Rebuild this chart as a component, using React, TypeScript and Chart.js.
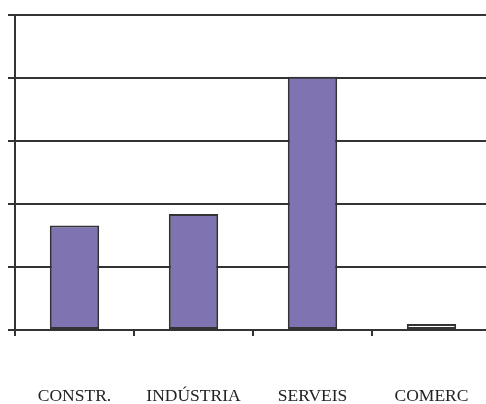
import React, { useEffect, useRef } from "react";
import { Chart, registerables } from "chart.js";

Chart.register(...registerables);

const categories = ["CONSTR.", "INDÚSTRIA", "SERVEIS", "COMERC"];
const values = [16.6, 18.4, 40.2, 0.95];
const fillColors = ["#7f73b1", "#7f73b1", "#7f73b1", "#ffffff"];
const yMin = 0;
const yMax = 50;
const yStep = 10;

export default function App() {
  const ref = useRef<HTMLCanvasElement | null>(null);

  useEffect(() => {
    const canvas = ref.current;
    if (!canvas) return;
    const line = "#333333";
    const chart = new Chart(canvas, {
      type: "bar",
      data: {
        labels: categories,
        datasets: [
          {
            data: values,
            backgroundColor: fillColors,
            borderColor: line,
            borderWidth: 2,
            borderSkipped: false,
            barPercentage: 0.415,
            categoryPercentage: 1,
          },
        ],
      },
      options: {
        responsive: false,
        animation: false,
        devicePixelRatio: 1,
        layout: { padding: { left: 8, top: 15, right: 9, bottom: 0 } },
        plugins: { legend: { display: false }, tooltip: { enabled: false } },
        scales: {
          x: {
            afterFit: (scale: any) => {
              scale.paddingLeft = 0;
              scale.paddingRight = 0;
            },
            grid: {
              drawOnChartArea: false,
              drawTicks: true,
              tickLength: 6,
              color: line,
              lineWidth: 2,
            },
            border: { display: true, color: line, width: 2 },
            ticks: {
              padding: 50,
              color: "#222222",
              maxRotation: 0,
              autoSkip: false,
              font: { family: "'Liberation Serif', 'Times New Roman', serif", size: 17.5, lineHeight: 1.2 },
            },
          },
          y: {
            min: yMin,
            max: yMax,
            ticks: { display: false, stepSize: yStep },
            grid: { color: line, lineWidth: 2, tickLength: 7, drawTicks: true },
            border: { display: true, color: line, width: 2 },
          },
        },
      },
    });
    return () => chart.destroy();
  }, []);

  return (
    <div style={{ position: "absolute", left: 0, top: 0, width: 486, height: 404, overflow: "hidden", background: "#fff" }}>
      <canvas ref={ref} width={500} height={457} style={{ display: "block", width: 500, height: 457 }} />
    </div>
  );
}
